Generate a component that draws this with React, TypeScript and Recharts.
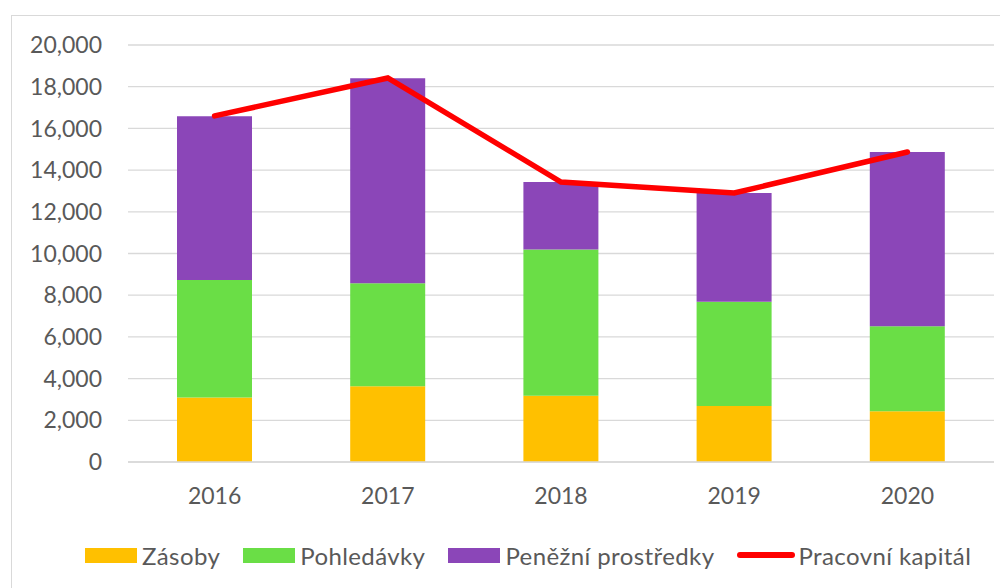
import React from "react";
import { ComposedChart, Bar, Line, XAxis, YAxis, CartesianGrid } from "recharts";

const years = ["2016", "2017", "2018", "2019", "2020"];
const zasoby = [3090, 3630, 3180, 2690, 2430];
const pohledavky = [5640, 4940, 7010, 5000, 4080];
const penezni = [7850, 9830, 3240, 5210, 8360];
const pracovni = [16600, 18420, 13430, 12900, 14870];
const yTicks = [0, 2000, 4000, 6000, 8000, 10000, 12000, 14000, 16000, 18000, 20000];

const series = [
  { key: "zasoby", name: "Zásoby", color: "#FFC000", type: "bar" },
  { key: "pohledavky", name: "Pohledávky", color: "#6ADE46", type: "bar" },
  { key: "penezni", name: "Peněžní prostředky", color: "#8B46B8", type: "bar" },
  { key: "pracovni", name: "Pracovní kapitál", color: "#FF0000", type: "line" },
];

const data = years.map((year, i) => ({
  year,
  zasoby: zasoby[i],
  pohledavky: pohledavky[i],
  penezni: penezni[i],
  pracovni: pracovni[i],
}));

const font = "Lato, 'Open Sans', sans-serif";
const textColor = "#595959";

export default function App() {
  return (
    <div style={{ position: "relative", width: 1000, height: 580, overflow: "hidden", fontFamily: font }}>
      <div
        style={{
          position: "absolute",
          left: 3,
          top: 7,
          width: 1100,
          height: 700,
          borderLeft: "1.5px solid #d9d9d9",
          borderTop: "1.5px solid #d9d9d9",
        }}
      />
      <div style={{ position: "absolute", left: 0, top: 0 }}>
        <ComposedChart
          width={1000}
          height={580}
          data={data}
          margin={{ top: 37, right: 14, bottom: 0, left: 0 }}
          barSize={75}
        >
          <CartesianGrid vertical={false} stroke="#d9d9d9" strokeWidth={1.3} />
          <XAxis
            dataKey="year"
            height={126}
            axisLine={{ stroke: "#d9d9d9", strokeWidth: 1.3 }}
            tickLine={false}
            tickMargin={20}
            tick={{ fill: textColor, fontSize: 23, fontFamily: font }}
          />
          <YAxis
            width={120}
            domain={[0, 20000]}
            ticks={yTicks}
            axisLine={false}
            tickLine={false}
            tickMargin={20}
            tickFormatter={(v: number) => v.toLocaleString("en-US")}
            tick={{ fill: textColor, fontSize: 23, fontFamily: font }}
          />
          {series
            .filter((s) => s.type === "bar")
            .map((s) => (
              <Bar key={s.key} dataKey={s.key} name={s.name} stackId="a" fill={s.color} isAnimationActive={false} />
            ))}
          <Line
            dataKey="pracovni"
            name="Pracovní kapitál"
            stroke="#FF0000"
            strokeWidth={5.5}
            strokeLinecap="round"
            strokeLinejoin="miter"
            dot={false}
            activeDot={false}
            isAnimationActive={false}
          />
        </ComposedChart>
      </div>
      <div
        style={{
          position: "absolute",
          left: 77,
          top: 530,
          display: "flex",
          alignItems: "center",
          fontSize: 24,
          letterSpacing: 0.4,
          color: textColor,
          height: 34,
        }}
      >
        {series.map((s) => (
          <div key={s.key} style={{ display: "flex", alignItems: "center", marginRight: 23 }}>
            {s.type === "bar" ? (
              <div style={{ width: 52, height: 15, background: s.color, marginRight: 5 }} />
            ) : (
              <div style={{ width: 58, height: 6, borderRadius: 3, background: s.color, marginRight: 3 }} />
            )}
            <span>{s.name}</span>
          </div>
        ))}
      </div>
    </div>
  );
}
